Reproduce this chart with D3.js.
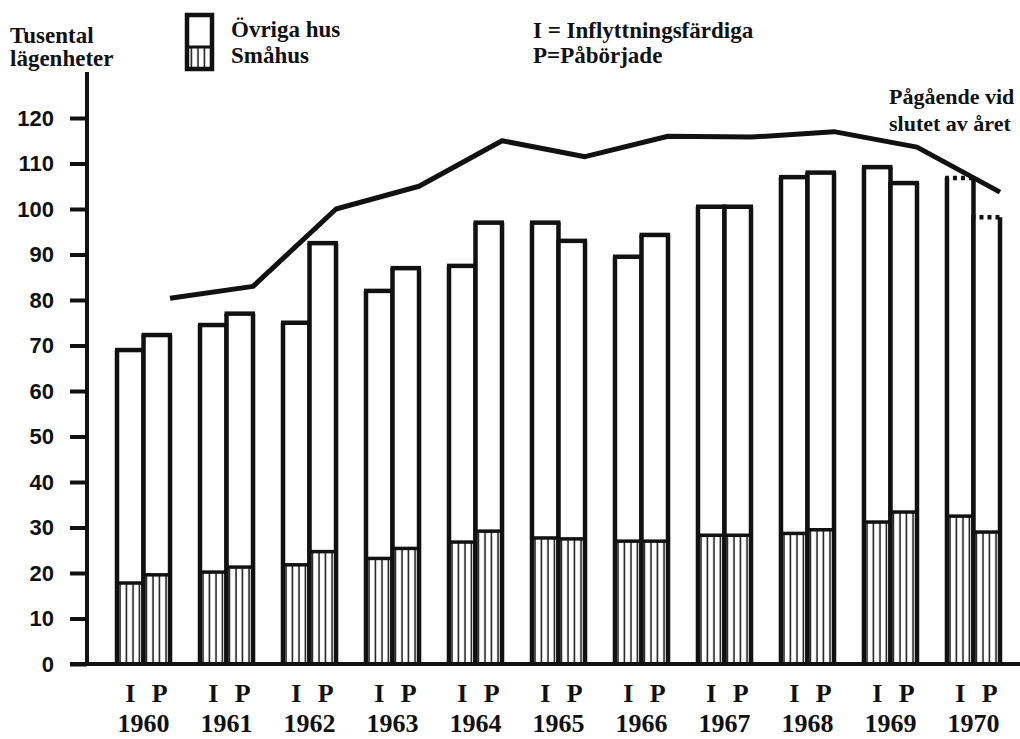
<!DOCTYPE html>
<html>
<head>
<meta charset="utf-8">
<script src="https://cdn.jsdelivr.net/npm/d3@7"></script>
<style>
  body { margin: 0; background: #fff; }
  svg { display: block; }
  .lbl { font-family: "Liberation Serif", "Times New Roman", serif; font-weight: bold; fill: #111; }
  .num { font-family: "Liberation Sans", Arial, sans-serif; font-weight: bold; font-size: 22px; fill: #111; }
</style>
</head>
<body>
<div id="chart"></div>
<script>
// data (thousands of dwellings)
var years = ["1960","1961","1962","1963","1964","1965","1966","1967","1968","1969","1970"];
var kinds = ["I", "P"];
var inflyttTotal  = [69, 74.5, 75, 82, 87.5, 97, 89.5, 100.5, 107, 109.2, 106.8];
var inflyttSmahus = [17.8, 20.2, 21.8, 23.2, 26.8, 27.7, 27, 28.3, 28.7, 31.2, 32.5];
var paborjTotal   = [72.3, 77, 92.5, 87, 97, 93, 94.3, 100.5, 108, 105.7, 98.2];
var paborjSmahus  = [19.6, 21.3, 24.7, 25.4, 29.2, 27.5, 27, 28.3, 29.5, 33.4, 29];
var pagaende      = [80.4, 83, 100, 105, 115, 111.5, 116, 115.8, 117, 113.6, 103.7];
var legendNames = ["Övriga hus", "Småhus"];
var yTicks = [0, 10, 20, 30, 40, 50, 60, 70, 80, 90, 100, 110, 120];
var preliminary = ["1970"];

var width = 1020, height = 739;

var svg = d3.select("#chart")
  .append("svg")
  .attr("width", width)
  .attr("height", height);

var defs = svg.append("defs");
var pat = defs.append("pattern")
  .attr("id", "hatch")
  .attr("patternUnits", "userSpaceOnUse")
  .attr("width", 6.5)
  .attr("height", 10);
pat.append("rect").attr("width", 6.5).attr("height", 10).attr("fill", "#fff");
pat.append("line")
  .attr("x1", 3).attr("x2", 3).attr("y1", 0).attr("y2", 10)
  .attr("stroke", "#111").attr("stroke-width", 1.5);

var x0 = d3.scaleBand()
  .domain(years)
  .range([117, 1000])
  .paddingInner(0.361)
  .paddingOuter(0);

var x1 = d3.scaleBand()
  .domain(kinds)
  .range([0, x0.bandwidth()]);

var y = d3.scaleLinear()
  .domain([0, 120])
  .range([664, 118]);

// build rows
var rows = [];
years.forEach(function(yr, i) {
  rows.push({ year: yr, kind: "I", total: inflyttTotal[i], small: inflyttSmahus[i] });
  rows.push({ year: yr, kind: "P", total: paborjTotal[i], small: paborjSmahus[i] });
});

var bars = svg.append("g").selectAll(".bar")
  .data(rows)
  .enter().append("g")
  .attr("class", "bar")
  .attr("transform", function(d) { return "translate(" + (x0(d.year) + x1(d.kind)) + ",0)"; });

var bw = x1.bandwidth();

// white upper part
bars.append("rect")
  .attr("x", 0)
  .attr("width", bw)
  .attr("y", function(d) { return y(d.total); })
  .attr("height", function(d) { return y(0) - y(d.total); })
  .attr("fill", "#fff");

// hatched småhus part
bars.append("rect")
  .attr("x", 0)
  .attr("width", bw)
  .attr("y", function(d) { return y(d.small); })
  .attr("height", function(d) { return y(0) - y(d.small); })
  .attr("fill", "url(#hatch)");

// divider between småhus and övriga hus
bars.append("line")
  .attr("x1", 0).attr("x2", bw)
  .attr("y1", function(d) { return y(d.small); })
  .attr("y2", function(d) { return y(d.small); })
  .attr("stroke", "#111")
  .attr("stroke-width", 3.5);

// sides
bars.append("path")
  .attr("d", function(d) {
    return "M0," + y(0) + "V" + y(d.total) + "M" + bw + "," + y(0) + "V" + y(d.total);
  })
  .attr("fill", "none")
  .attr("stroke", "#111")
  .attr("stroke-width", 4.5);

// top edge, dotted for preliminary year
bars.append("line")
  .attr("x1", -2).attr("x2", bw + 2)
  .attr("y1", function(d) { return y(d.total); })
  .attr("y2", function(d) { return y(d.total); })
  .attr("stroke", "#111")
  .attr("stroke-width", 4.5)
  .attr("stroke-dasharray", function(d) { return preliminary.indexOf(d.year) >= 0 ? "4,4" : null; });

// line: under construction at year end
var line = d3.line()
  .x(function(d, i) { return x0(years[i]) + x0.bandwidth(); })
  .y(function(d) { return y(d); });

svg.append("path")
  .datum(pagaende)
  .attr("d", line)
  .attr("fill", "none")
  .attr("stroke", "#111")
  .attr("stroke-width", 5)
  .attr("stroke-linejoin", "round");

// y axis
var yAxis = d3.axisLeft(y)
  .tickValues(yTicks)
  .tickSize(17)
  .tickPadding(16);

var gy = svg.append("g")
  .attr("transform", "translate(87,0)")
  .call(yAxis);
gy.select(".domain").remove();
gy.selectAll(".tick line").attr("stroke", "#111").attr("stroke-width", 4);
gy.selectAll(".tick text").attr("class", "num").attr("font-size", null).attr("font-family", null)
  .attr("fill", null);

svg.append("line")
  .attr("x1", 87).attr("x2", 87)
  .attr("y1", 72).attr("y2", y(0))
  .attr("stroke", "#111").attr("stroke-width", 4);

// x axis line
svg.append("line")
  .attr("x1", 70).attr("x2", 1020)
  .attr("y1", y(0)).attr("y2", y(0))
  .attr("stroke", "#111").attr("stroke-width", 4);

// x labels
var xl = svg.append("g").selectAll(".xl")
  .data(years)
  .enter().append("g");

kinds.forEach(function(k) {
  xl.append("text")
    .attr("class", "lbl")
    .attr("font-size", 26)
    .attr("text-anchor", "middle")
    .attr("x", function(d) { return x0(d) + x1(k) + bw / 2 + (k === "P" ? 3 : 0); })
    .attr("y", 702)
    .text(k);
});

xl.append("text")
  .attr("class", "lbl")
  .attr("font-size", 26)
  .attr("text-anchor", "middle")
  .attr("x", function(d) { return x0(d) + x0.bandwidth() / 2; })
  .attr("y", 732)
  .text(function(d) { return d; });

// y axis title
svg.append("text").attr("class", "lbl").attr("font-size", 23)
  .attr("x", 10).attr("y", 43).text("Tusental");
svg.append("text").attr("class", "lbl").attr("font-size", 23)
  .attr("x", 10).attr("y", 66).text("lägenheter");

// legend
var lg = svg.append("g");
lg.append("rect")
  .attr("x", 187).attr("y", 15).attr("width", 25).attr("height", 54)
  .attr("fill", "#fff");
lg.append("rect")
  .attr("x", 187).attr("y", 47).attr("width", 25).attr("height", 22)
  .attr("fill", "url(#hatch)");
lg.append("line")
  .attr("x1", 187).attr("x2", 212).attr("y1", 47).attr("y2", 47)
  .attr("stroke", "#111").attr("stroke-width", 3);
lg.append("rect")
  .attr("x", 187).attr("y", 15).attr("width", 25).attr("height", 54)
  .attr("fill", "none").attr("stroke", "#111").attr("stroke-width", 4.5);

lg.selectAll(".lt")
  .data(legendNames)
  .enter().append("text")
  .attr("class", "lbl")
  .attr("font-size", 23)
  .attr("x", 231)
  .attr("y", function(d, i) { return 37 + i * 26; })
  .text(function(d) { return d; });

// I / P explanation
svg.append("text").attr("class", "lbl").attr("font-size", 23)
  .attr("x", 533).attr("y", 38).text("I = Inflyttningsfärdiga");
svg.append("text").attr("class", "lbl").attr("font-size", 23)
  .attr("x", 533).attr("y", 63).text("P=Påbörjade");

// line label
svg.append("text").attr("class", "lbl").attr("font-size", 22)
  .attr("x", 889).attr("y", 104).text("Pågående vid");
svg.append("text").attr("class", "lbl").attr("font-size", 22)
  .attr("x", 889).attr("y", 131).text("slutet av året");
</script>
</body>
</html>
